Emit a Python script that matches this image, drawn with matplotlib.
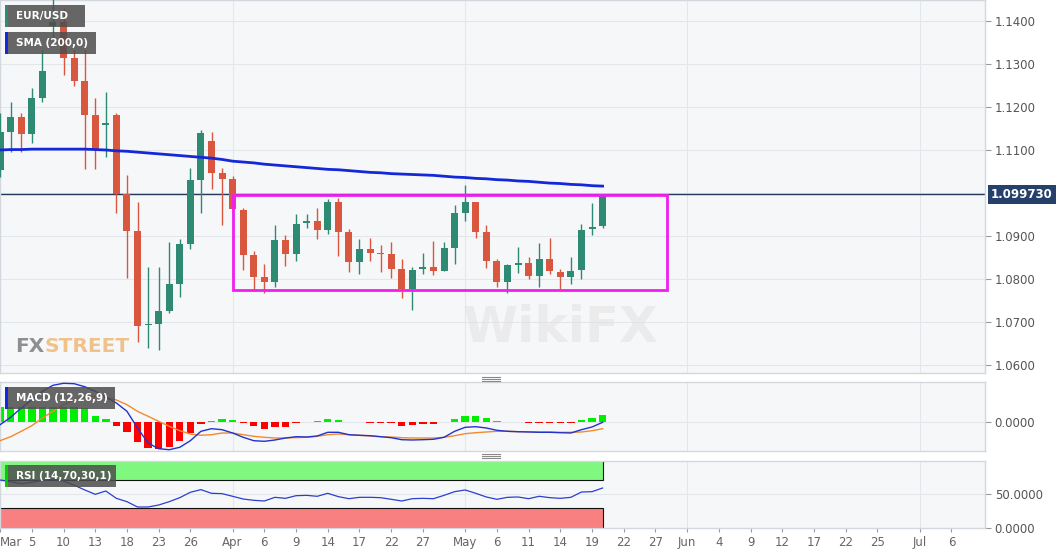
import matplotlib
matplotlib.use('Agg')
import matplotlib.pyplot as plt
import numpy as np
from matplotlib.patches import Rectangle
from matplotlib.lines import Line2D
from matplotlib.transforms import blended_transform_factory

# EUR/USD daily candles, 2 Mar 2020 -> 20 May 2020 (index = trading day)
opens = [1.1054, 1.1143, 1.1176, 1.1137, 1.1222, 1.1388, 1.1398, 1.1313, 1.1261, 1.1181,
         1.1157, 1.1181, 1.0998, 1.0912, 1.0692, 1.0695, 1.0726, 1.0788, 1.0881, 1.1030,
         1.1122, 1.1046, 1.1032, 1.0961, 1.0856, 1.0805, 1.0792, 1.0891, 1.0857, 1.0930,
         1.0936, 1.0913, 1.0980, 1.0910, 1.0839, 1.0869, 1.0861, 1.0857, 1.0823, 1.0777,
         1.0823, 1.0829, 1.0819, 1.0871, 1.0954, 1.0980, 1.0909, 1.0843, 1.0794, 1.0833,
         1.0838, 1.0807, 1.0846, 1.0817, 1.0804, 1.0821, 1.0916, 1.0923]
highs = [1.1186, 1.1212, 1.1187, 1.1244, 1.1333, 1.1500, 1.1430, 1.1333, 1.1333, 1.1220,
         1.1236, 1.1187, 1.1042, 1.0980, 1.0829, 1.0829, 1.0887, 1.0892, 1.1057, 1.1147,
         1.1143, 1.1057, 1.1040, 1.0966, 1.0866, 1.0834, 1.0925, 1.0902, 1.0950, 1.0950,
         1.0966, 1.0986, 1.0989, 1.0916, 1.0893, 1.0895, 1.0879, 1.0885, 1.0847, 1.0829,
         1.0860, 1.0888, 1.0887, 1.0972, 1.1019, 1.0980, 1.0925, 1.0846, 1.0835, 1.0874,
         1.0850, 1.0883, 1.0895, 1.0823, 1.0850, 1.0927, 1.0976, 1.0997]
lows = [1.1037, 1.1096, 1.1096, 1.1117, 1.1212, 1.1360, 1.1274, 1.1249, 1.1055, 1.1055,
        1.1084, 1.0954, 1.0802, 1.0654, 1.0639, 1.0635, 1.0720, 1.0759, 1.0869, 1.0953,
        1.1009, 1.0925, 1.0960, 1.0821, 1.0773, 1.0767, 1.0782, 1.0830, 1.0842, 1.0919,
        1.0892, 1.0905, 1.0854, 1.0816, 1.0811, 1.0842, 1.0816, 1.0802, 1.0755, 1.0728,
        1.0811, 1.0809, 1.0819, 1.0835, 1.0935, 1.0895, 1.0825, 1.0781, 1.0768, 1.0813,
        1.0800, 1.0782, 1.0811, 1.0776, 1.0788, 1.0800, 1.0902, 1.0918]
closes = [1.1143, 1.1176, 1.1137, 1.1222, 1.1284, 1.1398, 1.1313, 1.1261, 1.1181, 1.1102,
          1.1162, 1.0998, 1.0912, 1.0691, 1.0695, 1.0726, 1.0788, 1.0881, 1.1030, 1.1139,
          1.1046, 1.1032, 1.0962, 1.0856, 1.0805, 1.0792, 1.0891, 1.0857, 1.0928, 1.0936,
          1.0913, 1.0980, 1.0910, 1.0839, 1.0869, 1.0861, 1.0857, 1.0823, 1.0777, 1.0821,
          1.0829, 1.0819, 1.0871, 1.0953, 1.0980, 1.0909, 1.0843, 1.0794, 1.0833, 1.0838,
          1.0807, 1.0846, 1.0819, 1.0804, 1.0819, 1.0914, 1.0922, 1.0997]

sma200 = [1.1100, 1.1101, 1.1101, 1.1102, 1.1102, 1.1102, 1.1102, 1.1102, 1.1102, 1.1101,
          1.1100, 1.1098, 1.1097, 1.1095, 1.1093, 1.1091, 1.1089, 1.1087, 1.1085, 1.1083,
          1.1081, 1.1078, 1.1074, 1.1072, 1.1070, 1.1067, 1.1065, 1.1063, 1.1061, 1.1059,
          1.1057, 1.1055, 1.1054, 1.1052, 1.1050, 1.1048, 1.1047, 1.1045, 1.1044, 1.1043,
          1.1042, 1.1041, 1.1039, 1.1037, 1.1036, 1.1034, 1.1033, 1.1031, 1.1030, 1.1028,
          1.1027, 1.1025, 1.1023, 1.1022, 1.1020, 1.1019, 1.1017, 1.1016]

macd_line = [-0.00024, 0.00050, 0.00143, 0.00226, 0.00310, 0.00370, 0.00390, 0.00386, 0.00356, 0.00310,
             0.00250, 0.00193, 0.00110, -0.00057, -0.00207, -0.00264, -0.00274, -0.00250, -0.00184, -0.00090,
             -0.00064, -0.00074, -0.00107, -0.00150, -0.00184, -0.00190, -0.00177, -0.00157, -0.00144, -0.00147,
             -0.00137, -0.00100, -0.00100, -0.00124, -0.00130, -0.00134, -0.00144, -0.00154, -0.00174, -0.00177,
             -0.00174, -0.00170, -0.00150, -0.00090, -0.00050, -0.00044, -0.00057, -0.00080, -0.00090, -0.00094,
             -0.00097, -0.00100, -0.00100, -0.00104, -0.00107, -0.00074, -0.00047, 0.00000]
macd_signal = [-0.00184, -0.00144, -0.00090, -0.00034, 0.00043, 0.00110, 0.00176, 0.00223, 0.00253, 0.00260,
               0.00250, 0.00223, 0.00176, 0.00110, 0.00060, 0.00010, -0.00040, -0.00084, -0.00117, -0.00130,
               -0.00124, -0.00107, -0.00107, -0.00124, -0.00140, -0.00150, -0.00157, -0.00157, -0.00153, -0.00150,
               -0.00140, -0.00124, -0.00117, -0.00124, -0.00130, -0.00137, -0.00144, -0.00147, -0.00154, -0.00157,
               -0.00157, -0.00157, -0.00150, -0.00134, -0.00114, -0.00104, -0.00097, -0.00090, -0.00090, -0.00094,
               -0.00094, -0.00097, -0.00097, -0.00100, -0.00100, -0.00097, -0.00084, -0.00064]
macd_hist = [0.00150, 0.00150, 0.00150, 0.00150, 0.00150, 0.00150, 0.00150, 0.00150, 0.00140, 0.00066,
             0.00033, -0.00034, -0.00100, -0.00200, -0.00257, -0.00267, -0.00247, -0.00190, -0.00107, -0.00013,
             0.00015, 0.00030, 0.00023, -0.00010, -0.00034, -0.00070, -0.00050, -0.00043, -0.00010, 0.00005,
             0.00010, 0.00033, 0.00027, 0.00007, 0.00003, -0.00002, -0.00005, -0.00010, -0.00033, -0.00030,
             -0.00017, -0.00013, 0.00005, 0.00037, 0.00067, 0.00060, 0.00040, 0.00017, 0.00007, 0.00003,
             -0.00005, -0.00002, -0.00005, -0.00010, -0.00010, 0.00027, 0.00043, 0.00077]

rsi = [70.6, 68.0, 65.0, 67.0, 70.0, 72.0, 69.0, 63.0, 56.0, 49.5,
       54.4, 43.6, 38.7, 30.9, 30.9, 33.8, 38.7, 44.6, 52.5, 56.4,
       51.0, 50.5, 46.6, 42.6, 40.7, 39.7, 45.1, 43.6, 47.5, 48.0,
       46.6, 51.0, 46.1, 43.1, 45.1, 45.1, 44.6, 42.2, 39.7, 43.1,
       43.6, 43.1, 48.0, 53.4, 55.9, 51.0, 45.6, 42.2, 45.1, 45.6,
       43.1, 46.6, 44.6, 43.6, 45.1, 52.9, 53.4, 58.8]

tick_idx = [0, 3, 6, 9, 12, 15, 18, 22, 25, 28, 31, 34, 37, 40, 44, 47, 50, 53, 56,
            59, 62, 65, 68, 71, 74, 77, 80, 83, 87, 90]
tick_labels = ['Mar', '5', '10', '13', '18', '23', '26', 'Apr', '6', '9', '14', '17', '22', '27',
               'May', '6', '11', '14', '19', '22', '27', 'Jun', '4', '9', '12', '17', '22', '25',
               'Jul', '6']
month_idx = [22, 44, 65, 87]

last_price = 1.09973
range_start, range_end = 22, 63.06
range_low, range_high = 1.0774, 1.0995

W, H = 1060, 555
GREEN, RED = '#2e8a73', '#d9573f'
GRID = '#e3e6eb'
BG = '#f6f7f9'

fig = plt.figure(figsize=(W / 100, H / 100), dpi=100)


def panel(top, bottom):
    a = fig.add_axes([0, 1 - bottom / H, 985 / W, (bottom - top) / H])
    a.set_facecolor(BG)
    for s in a.spines.values():
        s.set_color('#d3d7de')
        s.set_linewidth(1)
    a.set_xlim(-0.01, 93.18)
    a.yaxis.tick_right()
    a.tick_params(axis='y', direction='out', length=4, width=0.8, color='#999999',
                  labelsize=8.5, labelcolor='#555555', pad=3)
    a.tick_params(axis='x', bottom=False, labelbottom=False)
    for m in month_idx:
        a.axvline(m, color=GRID, lw=0.8, zorder=0)
    return a


ax = panel(0, 373)
ax_macd = panel(382, 451)
ax_rsi = panel(461, 528)

# ---- price panel
idx = np.arange(len(opens))
o = np.array(opens); c = np.array(closes)
up = c >= o
cols = np.where(up, GREEN, RED)
ax.vlines(idx, lows, highs, colors=cols, lw=1, zorder=3)
body_lo = np.minimum(o, c)
body_h = np.maximum(np.abs(c - o), 0.0003)
ax.bar(idx, body_h, bottom=body_lo, width=0.66, color=cols, zorder=3)

ax.plot(idx, sma200, color='#1428d8', lw=2, zorder=4)
ax.axhline(last_price, color='#263b5c', lw=1, zorder=2)
ax.add_patch(Rectangle((range_start, range_low), range_end - range_start, range_high - range_low,
                       fill=False, ec='#f01ef0', lw=2, zorder=5))

yt = [1.06, 1.07, 1.08, 1.09, 1.11, 1.12, 1.13, 1.14]
ax.set_yticks(yt)
ax.set_yticklabels(['%.4f' % v for v in yt])
for v in [1.06, 1.07, 1.08, 1.09, 1.10, 1.11, 1.12, 1.13, 1.14]:
    ax.axhline(v, color=GRID, lw=0.8, zorder=0)
ax.set_ylim(1.05814, 1.14488)

tr = blended_transform_factory(ax.transAxes, ax.transData)
ax.text(1.006, last_price, '1.099730', transform=tr, ha='left', va='center', color='white',
        fontsize=8.5, fontweight='bold', clip_on=False, zorder=10,
        bbox=dict(boxstyle='square,pad=0.25', fc='#25406a', ec='none'))

# watermark + logo
ax.text(560, H - 328, 'WikiFX', transform=None, fontsize=36, fontweight='bold', color='#dedede',
        alpha=0.45, ha='center', va='center', zorder=1)
fx = fig.text(15 / W, 1 - 352 / H, 'FX', fontsize=14.5, fontweight='bold', color='#8f8f8f',
              va='baseline', zorder=6)
ax.annotate('STREET', xy=(1, 0), xycoords=fx, xytext=(0.5, 0), textcoords='offset points',
            fontsize=14.5, fontweight='bold', color='#f0c189', va='bottom',
            annotation_clip=False, zorder=6)

# ---- MACD panel
ax_macd.axhline(0, color=GRID, lw=0.8, zorder=0)
hcols = ['#00ee00' if v >= 0 else '#ff0000' for v in macd_hist]
ax_macd.bar(idx, macd_hist, width=0.7, color=hcols, zorder=2)
ax_macd.plot(idx, macd_signal, color='#f28a2e', lw=1, zorder=3)
ax_macd.plot(idx, macd_line, color='#2233cc', lw=1, zorder=4)
ax_macd.set_ylim(-0.00287, 0.00403)
ax_macd.set_yticks([0])
ax_macd.set_yticklabels(['0.0000'])

# ---- RSI panel
ax_rsi.axhline(50, color=GRID, lw=0.8, zorder=0)
ax_rsi.add_patch(Rectangle((-0.5, 70), 57.5, 30, fc='#80f880', ec='#111111', lw=0.8, zorder=1))
ax_rsi.add_patch(Rectangle((-0.5, 0), 57.5, 30, fc='#f88080', ec='#111111', lw=0.8, zorder=1))
ax_rsi.plot(idx, rsi, color='#2b3fd0', lw=0.9, zorder=3)
ax_rsi.set_ylim(0, 98.5)
ax_rsi.set_yticks([0, 50])
ax_rsi.set_yticklabels(['0.0000', '50.0000'])
ax_rsi.set_xticks(tick_idx)
ax_rsi.set_xticklabels(tick_labels)
ax_rsi.tick_params(axis='x', bottom=True, labelbottom=True, length=3, color='#999999',
                   labelsize=8.5, labelcolor='#666666', pad=3)
ax_rsi.get_xticklabels()[0].set_ha('left')


# ---- legend tags
def tag(x0, y0, x1, y1, text, stripe):
    fig.add_artist(Rectangle((x0 / W, 1 - y1 / H), (x1 - x0) / W, (y1 - y0) / H,
                             transform=fig.transFigure, fc='#4d4d4d', alpha=0.85, ec='none', zorder=20))
    fig.add_artist(Rectangle((x0 / W, 1 - y1 / H), 3 / W, (y1 - y0) / H,
                             transform=fig.transFigure, fc=stripe, ec='none', zorder=21))
    fig.text((x0 + 11) / W, 1 - (y0 + y1) / 2 / H, text, color='white', fontsize=7.5,
             fontweight='bold', va='center', ha='left', zorder=22)


tag(5, 5, 85, 27, 'EUR/USD', GREEN)
tag(5, 32, 96, 54, 'SMA (200,0)', '#1428e0')
tag(5, 387, 115, 409, 'MACD (12,26,9)', '#1428e0')
tag(5, 465, 116, 487, 'RSI (14,70,30,1)', '#00d000')

# drag handles between panels
for yy in [376.5, 378.5, 380.5, 453.5, 455.5, 457.5]:
    fig.add_artist(Line2D([482 / W, 500 / W], [1 - yy / H] * 2, color='#8a8a8a', lw=0.8,
                          transform=fig.transFigure))

fig.savefig('out.png', dpi=100, facecolor='white')
